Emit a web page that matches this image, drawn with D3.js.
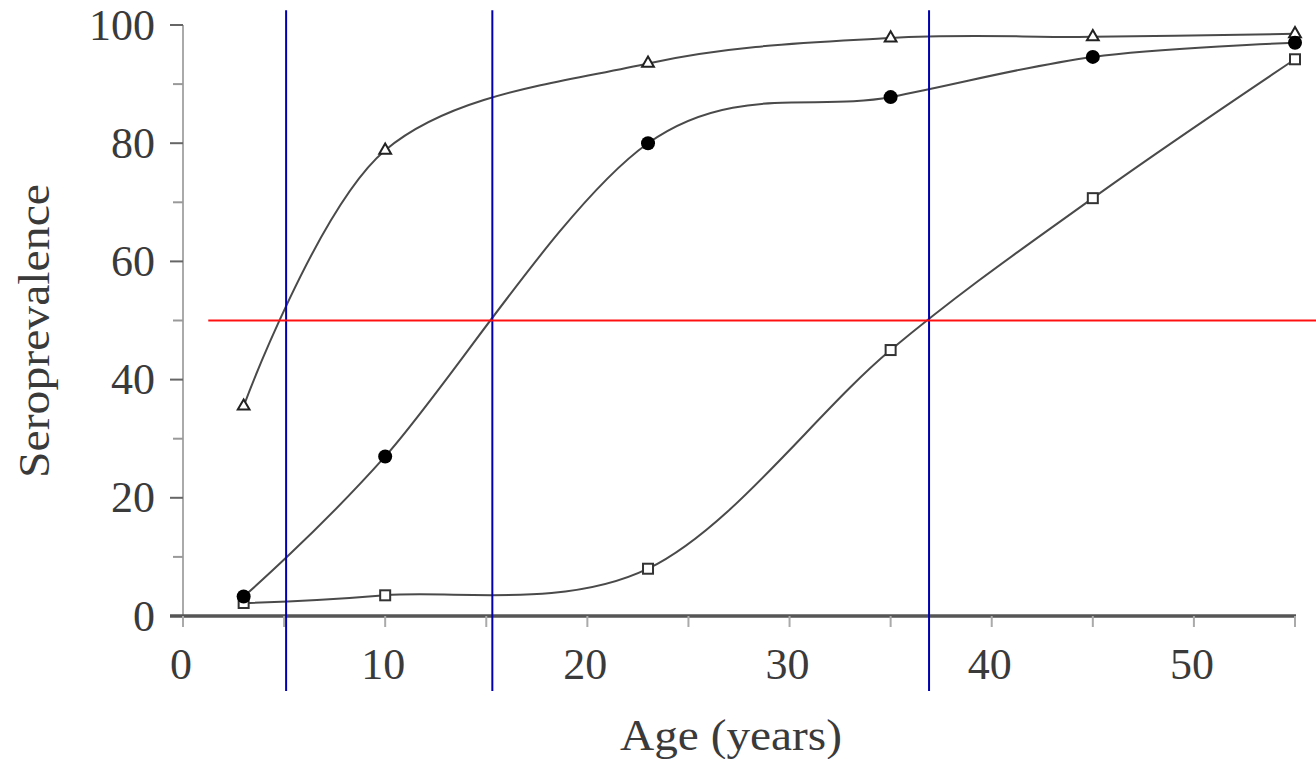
<!DOCTYPE html>
<html>
<head>
<meta charset="utf-8">
<script src="https://cdn.jsdelivr.net/npm/d3@7"></script>
<style>
  body { margin: 0; background: #fff; }
  svg { display: block; }
  text { font-family: "Liberation Serif", "Times New Roman", serif; fill: #3a3a3a; }
</style>
</head>
<body>
<svg id="chart" width="1316" height="759"></svg>
<script>
// data
const ages = [3, 10, 23, 35, 45, 55];
const triangleSeries = [35.5, 78.8, 93.5, 97.8, 98.0, 98.5];
const circleSeries = [3.3, 27.0, 80.0, 87.8, 94.6, 97.0];
const squareSeries = [2.2, 3.5, 8.0, 45.0, 70.7, 94.2];
const yTicks = [0, 20, 40, 60, 80, 100];
const yMinorTicks = [10, 30, 50, 70, 90];
const xTicks = [0, 10, 20, 30, 40, 50];
const xMinorTicks = [5, 15, 25, 35, 45, 55];
const medianAges = [5.1, 15.3, 36.9];
const halfLevel = 50;

const svg = d3.select("#chart");

const x = d3.scaleLinear().domain([0, 55]).range([183, 1295]);
const y = d3.scaleLinear().domain([0, 100]).range([616, 25]);

// axes lines
svg.append("line")
  .attr("x1", x(0)).attr("x2", x(0))
  .attr("y1", y(100)).attr("y2", y(0) + 11)
  .attr("stroke", "#aaa").attr("stroke-width", 2);

svg.selectAll(".ytick").data(yTicks).join("line")
  .attr("class", "ytick")
  .attr("x1", x(0) - 13).attr("x2", x(0))
  .attr("y1", d => y(d)).attr("y2", d => y(d))
  .attr("stroke", "#666").attr("stroke-width", 2);

svg.selectAll(".yminor").data(yMinorTicks).join("line")
  .attr("class", "yminor")
  .attr("x1", x(0) - 10).attr("x2", x(0))
  .attr("y1", d => y(d)).attr("y2", d => y(d))
  .attr("stroke", "#999").attr("stroke-width", 2);

svg.append("line")
  .attr("x1", x(0) - 13).attr("x2", x(55) + 1)
  .attr("y1", y(0)).attr("y2", y(0))
  .attr("stroke", "#555").attr("stroke-width", 3.5);

svg.selectAll(".xtick").data(xTicks.concat(xMinorTicks)).join("line")
  .attr("class", "xtick")
  .attr("x1", d => x(d)).attr("x2", d => x(d))
  .attr("y1", y(0)).attr("y2", y(0) + 11)
  .attr("stroke", "#aaa").attr("stroke-width", 2);

svg.selectAll(".ylabel").data(yTicks).join("text")
  .attr("class", "ylabel")
  .attr("x", 155).attr("y", d => y(d))
  .attr("text-anchor", "end")
  .attr("dominant-baseline", "central")
  .attr("font-size", 44)
  .text(d => d);

svg.selectAll(".xlabel").data(xTicks).join("text")
  .attr("class", "xlabel")
  .attr("x", d => x(d) - 2).attr("y", 679)
  .attr("text-anchor", "middle")
  .attr("font-size", 44)
  .text(d => d);

svg.append("text")
  .attr("x", 731).attr("y", 750)
  .attr("text-anchor", "middle")
  .attr("font-size", 44)
  .attr("textLength", 222)
  .attr("lengthAdjust", "spacingAndGlyphs")
  .text("Age (years)");

svg.append("text")
  .attr("transform", "translate(49,331) rotate(-90)")
  .attr("text-anchor", "middle")
  .attr("font-size", 44)
  .attr("textLength", 294)
  .attr("lengthAdjust", "spacingAndGlyphs")
  .text("Seroprevalence");

// curves
const line = d3.line()
  .x((d, i) => x(ages[i]))
  .y(d => y(d))
  .curve(d3.curveCardinal.tension(0));

[squareSeries, circleSeries, triangleSeries].forEach(s => {
  svg.append("path")
    .attr("d", line(s))
    .attr("fill", "none")
    .attr("stroke", "#4a4a4a")
    .attr("stroke-width", 2);
});

// markers
svg.selectAll(".sq").data(squareSeries).join("rect")
  .attr("class", "sq")
  .attr("x", (d, i) => x(ages[i]) - 5)
  .attr("y", d => y(d) - 5)
  .attr("width", 10).attr("height", 10)
  .attr("fill", "#fff").attr("stroke", "#333").attr("stroke-width", 2);

const tri = d3.symbol().type(d3.symbolTriangle).size(60);
svg.selectAll(".tri").data(triangleSeries).join("path")
  .attr("class", "tri")
  .attr("d", tri)
  .attr("transform", (d, i) => `translate(${x(ages[i])},${y(d)})`)
  .attr("fill", "#fff").attr("stroke", "#222").attr("stroke-width", 2);

svg.selectAll(".dot").data(circleSeries).join("circle")
  .attr("class", "dot")
  .attr("cx", (d, i) => x(ages[i]))
  .attr("cy", d => y(d))
  .attr("r", 7)
  .attr("fill", "#000");

// reference lines
svg.selectAll(".vline").data(medianAges).join("line")
  .attr("class", "vline")
  .attr("x1", d => x(d)).attr("x2", d => x(d))
  .attr("y1", y(102.5)).attr("y2", y(-12.7))
  .attr("stroke", "#0000b0").attr("stroke-width", 2);

svg.append("line")
  .attr("x1", x(1.25)).attr("x2", 1316)
  .attr("y1", y(halfLevel)).attr("y2", y(halfLevel))
  .attr("stroke", "#ff1010").attr("stroke-width", 2);
</script>
</body>
</html>
